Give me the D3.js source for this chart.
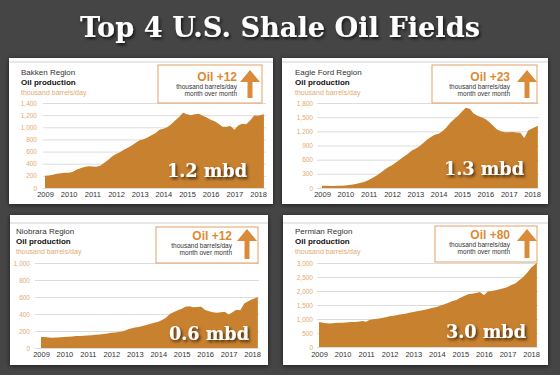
<!DOCTYPE html>
<html>
<head>
<meta charset="utf-8">
<script src="https://cdn.jsdelivr.net/npm/d3@7"></script>
<style>
  html, body { margin: 0; padding: 0; background: #454545; }
  svg { display: block; }
  .tick text { font-family: "Liberation Sans", Arial, sans-serif; }
</style>
</head>
<body>
<svg id="chart"></svg>
<script>
// bi-monthly samples, Jan 2009 .. Apr 2018 (thousand barrels/day)
const dates = [
  "2009-01","2009-03","2009-05","2009-07","2009-09","2009-11",
  "2010-01","2010-03","2010-05","2010-07","2010-09","2010-11",
  "2011-01","2011-03","2011-05","2011-07","2011-09","2011-11",
  "2012-01","2012-03","2012-05","2012-07","2012-09","2012-11",
  "2013-01","2013-03","2013-05","2013-07","2013-09","2013-11",
  "2014-01","2014-03","2014-05","2014-07","2014-09","2014-11",
  "2015-01","2015-03","2015-05","2015-07","2015-09","2015-11",
  "2016-01","2016-03","2016-05","2016-07","2016-09","2016-11",
  "2017-01","2017-03","2017-05","2017-07","2017-09","2017-11",
  "2018-01","2018-04"
];

const bakken = [
  200, 205, 220, 235, 245, 250,
  250, 265, 300, 325, 345, 360,
  355, 350, 365, 410, 460, 520,
  560, 590, 630, 665, 700, 745,
  785, 805, 830, 870, 900, 960,
  975, 1000, 1050, 1110, 1170, 1240,
  1215, 1200, 1215, 1225, 1190, 1160,
  1125, 1100, 1060, 1010, 1010, 1020,
  960, 1030, 1060, 1050, 1110, 1195,
  1190, 1215
];

const eagleFord = [
  50, 48, 45, 45, 48, 50,
  55, 62, 75, 92, 110, 135,
  170, 210, 260, 320, 380, 440,
  480, 540, 600, 660, 720, 790,
  830, 880, 950, 1020, 1080, 1130,
  1150, 1200, 1280, 1380, 1460, 1530,
  1620, 1700, 1680, 1580, 1530, 1500,
  1460, 1400, 1320, 1240, 1200, 1180,
  1180, 1185, 1175, 1170, 1060, 1220,
  1260, 1320
];

const niobrara = [
  130, 128, 125, 122, 124, 126,
  130, 132, 136, 140, 142, 144,
  146, 150, 155, 160, 165, 170,
  178, 182, 188, 198, 215, 230,
  240, 248, 258, 270, 285, 296,
  308, 330, 355, 400, 425, 445,
  462, 485, 490, 478, 482, 486,
  446, 432, 420, 415, 422, 427,
  395, 420, 450, 445, 525, 550,
  573, 597
];

const permian = [
  893, 870, 850, 840, 855, 865,
  870, 875, 890, 895, 905, 930,
  900, 975, 990, 1010, 1035, 1065,
  1095, 1120, 1145, 1166, 1190, 1220,
  1250, 1280, 1305, 1333, 1370, 1400,
  1428, 1480, 1530, 1583, 1640, 1680,
  1761, 1820, 1880, 1904, 1930, 1960,
  1845, 1980, 2000, 2023, 2060, 2100,
  2142, 2210, 2270, 2380, 2500, 2650,
  2832, 3010
];

const regionNames = ["Bakken Region", "Eagle Ford Region", "Niobrara Region", "Permian Region"];
const monthlyChange = [12, 23, 12, 80];
const totals = ["1.2 mbd", "1.3 mbd", "0.6 mbd", "3.0 mbd"];
const bakkenTicks = [0, 200, 400, 600, 800, 1000, 1200, 1400];
const eagleFordTicks = [0, 300, 600, 900, 1200, 1500, 1800];
const niobraraTicks = [0, 200, 400, 600, 800, 1000];
const permianTicks = [0, 500, 1000, 1500, 2000, 2500, 3000];

const W = 560, H = 375;
const parseMonth = d3.timeParse("%Y-%m");
const parsedDates = dates.map(parseMonth);

const svg = d3.select("#chart").attr("width", W).attr("height", H);

const defs = svg.append("defs");
const sh = defs.append("filter").attr("id", "txtshadow")
  .attr("x", "-10%").attr("y", "-20%").attr("width", "130%").attr("height", "160%");
sh.append("feDropShadow").attr("dx", 1.5).attr("dy", 2).attr("stdDeviation", 1.5)
  .attr("flood-color", "#000").attr("flood-opacity", 0.7);
const psh = defs.append("filter").attr("id", "panelshadow")
  .attr("x", "-5%").attr("y", "-5%").attr("width", "110%").attr("height", "110%");
psh.append("feDropShadow").attr("dx", 0).attr("dy", 1).attr("stdDeviation", 2.5)
  .attr("flood-color", "#000").attr("flood-opacity", 0.6);

svg.append("rect").attr("width", W).attr("height", H).attr("fill", "#454545");

// headline
svg.append("text")
  .attr("x", W / 2).attr("y", 37)
  .attr("text-anchor", "middle")
  .attr("font-family", "'DejaVu Serif', serif")
  .attr("font-weight", "bold")
  .attr("font-size", 27)
  .attr("textLength", 400)
  .attr("lengthAdjust", "spacingAndGlyphs")
  .attr("fill", "#ffffff")
  .attr("filter", "url(#txtshadow)")
  .text("Top 4 U.S. Shale Oil Fields");

const panels = [
  {values: bakken, ticks: bakkenTicks,
   px: 9, py: 58, pw: 264, ph: 146, sep: 62,
   x2009: 45, x2018: 258, y0: 188, yTop: 103, labelX: 37, gridX0: 43, gridX1: 266,
   titleX: 21, titleY: 75, xlabY: 198,
   box: [158, 65, 104, 38], oilX: 237, oilY: 81, arrowX: 250, arrowTop: 70, arrowBot: 98,
   mbdX: 207, mbdY: 177},
  {values: eagleFord, ticks: eagleFordTicks,
   px: 282, py: 58, pw: 266, ph: 146, sep: 62,
   x2009: 322, x2018: 532, y0: 188, yTop: 103, labelX: 313, gridX0: 317, gridX1: 539,
   titleX: 295, titleY: 75, xlabY: 198,
   box: [432, 65, 105, 38], oilX: 510, oilY: 81, arrowX: 527, arrowTop: 70, arrowBot: 98,
   mbdX: 484, mbdY: 175},
  {values: niobrara, ticks: niobraraTicks,
   px: 10, py: 215, pw: 258, ph: 150, sep: 223,
   x2009: 41, x2018: 252, y0: 348, yTop: 263, labelX: 30, gridX0: 35, gridX1: 259,
   titleX: 16, titleY: 234, xlabY: 358,
   box: [156, 227, 102, 36], oilX: 232, oilY: 240, arrowX: 247, arrowTop: 229, arrowBot: 259,
   mbdX: 209, mbdY: 340},
  {values: permian, ticks: permianTicks,
   px: 283, py: 215, pw: 265, ph: 150, sep: 223,
   x2009: 319, x2018: 531, y0: 347, yTop: 263, labelX: 313, gridX0: 317, gridX1: 538,
   titleX: 295, titleY: 234, xlabY: 358,
   box: [435, 226, 102, 36], oilX: 510, oilY: 239, arrowX: 527, arrowTop: 229, arrowBot: 258,
   mbdX: 486, mbdY: 338}
];

panels.forEach(function(p, i) {
  const g = svg.append("g");

  g.append("rect")
    .attr("x", p.px).attr("y", p.py).attr("width", p.pw).attr("height", p.ph)
    .attr("fill", "#ffffff")
    .attr("filter", "url(#panelshadow)");

  g.append("line")
    .attr("x1", p.px).attr("x2", p.px + p.pw)
    .attr("y1", p.sep).attr("y2", p.sep)
    .attr("stroke", "#d0d0d0").attr("stroke-width", 1);

  // scales
  const perYear = (p.x2018 - p.x2009) / 9;
  const x = d3.scaleTime()
    .domain([parseMonth("2009-01"), parseMonth("2018-04")])
    .range([p.x2009, p.x2018 + perYear * 0.25]);
  const yMax = d3.max(p.ticks);
  const y = d3.scaleLinear().domain([0, yMax]).range([p.y0, p.yTop]);

  // gridlines + y labels
  const yAxis = d3.axisLeft(y)
    .tickValues(p.ticks)
    .tickFormat(d3.format(","))
    .tickSize(-(p.gridX1 - p.gridX0))
    .tickPadding(p.gridX0 - p.labelX);
  const ya = g.append("g")
    .attr("transform", "translate(" + p.gridX0 + ",0)")
    .call(yAxis);
  ya.select(".domain").remove();
  ya.selectAll(".tick line").attr("stroke", "#dcdcdc");
  ya.selectAll(".tick text").attr("fill", "#e2aa70").attr("font-size", 6.5);

  // area
  const area = d3.area()
    .x((d, j) => x(parsedDates[j]))
    .y0(y(0))
    .y1(d => y(d));
  g.append("path")
    .datum(p.values)
    .attr("d", area)
    .attr("fill", "#c8812f");

  // x axis
  const xAxis = d3.axisBottom(x)
    .ticks(d3.timeYear.every(1))
    .tickFormat(d3.timeFormat("%Y"))
    .tickSize(0)
    .tickPadding(0);
  const xa = g.append("g")
    .attr("transform", "translate(0," + (p.xlabY - 6) + ")")
    .call(xAxis);
  xa.select(".domain").remove();
  xa.selectAll(".tick text").attr("fill", "#333").attr("font-size", 7.5).attr("dy", "0.71em");

  // panel titles
  const tf = "'Liberation Sans', Arial, sans-serif";
  g.append("text").attr("x", p.titleX).attr("y", p.titleY)
    .attr("font-family", tf).attr("font-size", 8).attr("fill", "#333")
    .text(regionNames[i]);
  g.append("text").attr("x", p.titleX).attr("y", p.titleY + 10)
    .attr("font-family", tf).attr("font-size", 8).attr("font-weight", "bold").attr("fill", "#111")
    .text("Oil production");
  g.append("text").attr("x", p.titleX).attr("y", p.titleY + 20)
    .attr("font-family", tf).attr("font-size", 7).attr("fill", "#e2aa70")
    .text("thousand barrels/day");

  // change box
  g.append("rect")
    .attr("x", p.box[0]).attr("y", p.box[1]).attr("width", p.box[2]).attr("height", p.box[3])
    .attr("fill", "#ffffff").attr("stroke", "#e3a265").attr("stroke-width", 1);
  g.append("text").attr("x", p.oilX).attr("y", p.oilY)
    .attr("text-anchor", "end").attr("font-family", tf)
    .attr("font-size", 12).attr("font-weight", "bold").attr("fill", "#dc8a35")
    .text("Oil +" + monthlyChange[i]);
  g.append("text").attr("x", p.oilX).attr("y", p.oilY + 7.5)
    .attr("text-anchor", "end").attr("font-family", tf)
    .attr("font-size", 6.5).attr("fill", "#333")
    .text("thousand barrels/day");
  g.append("text").attr("x", p.oilX).attr("y", p.oilY + 14.5)
    .attr("text-anchor", "end").attr("font-family", tf)
    .attr("font-size", 6.5).attr("fill", "#333")
    .text("month over month");

  // arrow
  const ax = p.arrowX, at = p.arrowTop, ab = p.arrowBot;
  const headH = 12, headW = 10, shaftW = 2.5;
  g.append("path")
    .attr("d", "M" + ax + "," + at +
      " L" + (ax + headW) + "," + (at + headH) +
      " L" + (ax + shaftW) + "," + (at + headH) +
      " L" + (ax + shaftW) + "," + ab +
      " L" + (ax - shaftW) + "," + ab +
      " L" + (ax - shaftW) + "," + (at + headH) +
      " L" + (ax - headW) + "," + (at + headH) + " Z")
    .attr("fill", "#d98b3a");

  // total label
  g.append("text").attr("x", p.mbdX).attr("y", p.mbdY)
    .attr("text-anchor", "middle")
    .attr("font-family", "'DejaVu Serif', serif")
    .attr("font-weight", "bold").attr("font-size", 19)
    .attr("textLength", 80).attr("lengthAdjust", "spacingAndGlyphs")
    .attr("fill", "#ffffff")
    .attr("filter", "url(#txtshadow)")
    .text(totals[i]);
});
</script>
</body>
</html>
